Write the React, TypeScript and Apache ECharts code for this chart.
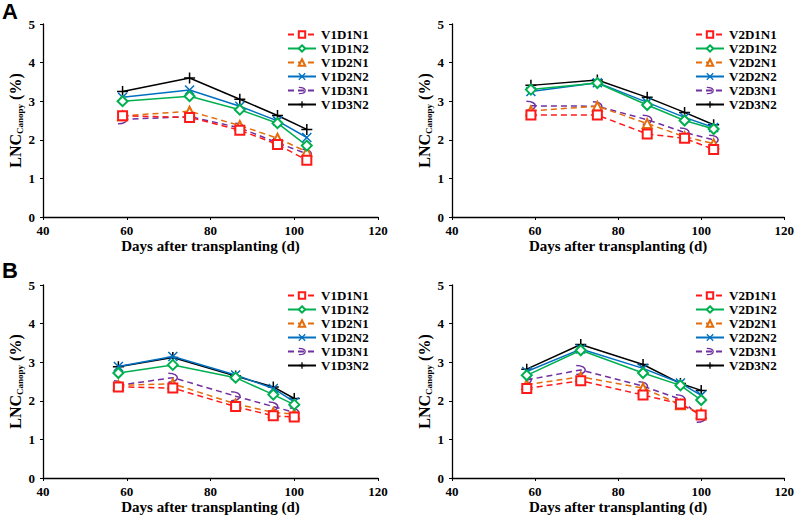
import React, { useEffect, useRef } from "react";
import * as echarts from "echarts";

// ---------- data ----------
const daysA = [59, 75, 87, 96, 103];
const daysB = [58, 71, 86, 95, 100];

const namesV1 = ["V1D1N1", "V1D1N2", "V1D2N1", "V1D2N2", "V1D3N1", "V1D3N2"];
const namesV2 = ["V2D1N1", "V2D1N2", "V2D2N1", "V2D2N2", "V2D3N1", "V2D3N2"];

// Panel A, V1
const aV1D1N1 = [2.62, 2.58, 2.25, 1.88, 1.47];
const aV1D1N2 = [3.0, 3.13, 2.78, 2.43, 1.85];
const aV1D2N1 = [2.62, 2.74, 2.37, 2.04, 1.69];
const aV1D2N2 = [3.1, 3.29, 2.87, 2.49, 2.06];
const aV1D3N1 = [2.53, 2.6, 2.31, 1.92, 1.64];
const aV1D3N2 = [3.25, 3.6, 3.05, 2.63, 2.27];
// Panel A, V2
const aV2D1N1 = [2.64, 2.64, 2.15, 2.04, 1.75];
const aV2D1N2 = [3.3, 3.47, 2.9, 2.5, 2.28];
const aV2D2N1 = [2.75, 2.87, 2.42, 2.08, 1.9];
const aV2D2N2 = [3.25, 3.48, 2.97, 2.58, 2.32];
const aV2D3N1 = [2.88, 2.87, 2.52, 2.19, 2.0];
const aV2D3N2 = [3.41, 3.55, 3.1, 2.71, 2.39];
// Panel B, V1
const bV1D1N1 = [2.36, 2.33, 1.85, 1.61, 1.58];
const bV1D1N2 = [2.72, 2.93, 2.6, 2.16, 1.9];
const bV1D2N1 = [2.4, 2.44, 1.92, 1.7, 1.66];
const bV1D2N2 = [2.89, 3.15, 2.67, 2.32, 1.97];
const bV1D3N1 = [2.4, 2.6, 2.12, 1.85, 1.7];
const bV1D3N2 = [2.88, 3.12, 2.64, 2.36, 2.06];
// Panel B, V2
const bV2D1N1 = [2.32, 2.52, 2.15, 1.92, 1.63];
const bV2D1N2 = [2.66, 3.31, 2.72, 2.4, 2.02];
const bV2D2N1 = [2.42, 2.62, 2.33, 1.9, 1.67];
const bV2D2N2 = [2.76, 3.34, 2.84, 2.46, 2.14];
const bV2D3N1 = [2.54, 2.8, 2.38, 2.04, 1.56];
const bV2D3N2 = [2.82, 3.46, 2.94, 2.45, 2.27];

const xTicks = [40, 120, 20];
const yTicks = [0, 5, 1];

// ---------- styles ----------
const SERIF = "'Liberation Serif', 'Times New Roman', serif";
const COLORS = ["#FF1A1A", "#00B050", "#E46C0A", "#0070C0", "#7030A0", "#000000"];
const SYMBOLS = [
  "emptyRect",
  "emptyDiamond",
  "emptyTriangle",
  "path://M0,0L10,10M10,0L0,10",
  "path://M2,0.5C10.5,0.5 10.5,9.5 2,9.5",
  "path://M5,0L5,10M0,5L10,5",
];
const SIZES = [9, 10, 9, 9, 9, 11];
const DASHED = [true, false, true, false, true, false];

const grids = [
  { left: 43, top: 24, width: 335, height: 193 },
  { left: 452, top: 24, width: 334, height: 193 },
  { left: 43, top: 285, width: 335, height: 193 },
  { left: 452, top: 285, width: 334, height: 193 },
];

const panelData = [
  { x: daysA, names: namesV1, vals: [aV1D1N1, aV1D1N2, aV1D2N1, aV1D2N2, aV1D3N1, aV1D3N2] },
  { x: daysA, names: namesV2, vals: [aV2D1N1, aV2D1N2, aV2D2N1, aV2D2N2, aV2D3N1, aV2D3N2] },
  { x: daysB, names: namesV1, vals: [bV1D1N1, bV1D1N2, bV1D2N1, bV1D2N2, bV1D3N1, bV1D3N2] },
  { x: daysB, names: namesV2, vals: [bV2D1N1, bV2D1N2, bV2D2N1, bV2D2N2, bV2D3N1, bV2D3N2] },
];

const legendPos = [
  { left: 287, top: 28 },
  { left: 695, top: 28 },
  { left: 287, top: 289 },
  { left: 695, top: 289 },
];

export default function App() {
  const ref = useRef<HTMLDivElement>(null);

  useEffect(() => {
    if (!ref.current) return;
    const chart = echarts.init(ref.current, null, { renderer: "svg" });

    const xAxis = grids.map((_, i) => ({
      type: "value",
      gridIndex: i,
      min: xTicks[0],
      max: xTicks[1],
      interval: xTicks[2],
      name: "Days after transplanting (d)",
      nameLocation: "middle",
      nameGap: 21,
      nameTextStyle: { fontFamily: SERIF, fontWeight: "bold", fontSize: 15, color: "#000" },
      axisLine: { show: true, lineStyle: { color: "#000", width: 1.3 } },
      axisTick: { show: true, length: 3, lineStyle: { color: "#000", width: 1 } },
      axisLabel: { fontFamily: SERIF, fontWeight: "bold", fontSize: 13, color: "#000", margin: 7 },
      splitLine: { show: false },
    }));

    const yAxis = grids.map((_, i) => ({
      type: "value",
      gridIndex: i,
      min: yTicks[0],
      max: yTicks[1],
      interval: yTicks[2],
      name: "{a|LNC}{b|Canopy}{a| (%)}",
      nameLocation: "middle",
      nameRotate: 90,
      nameGap: 19,
      nameTextStyle: {
        rich: {
          a: { fontFamily: SERIF, fontWeight: "bold", fontSize: 16, color: "#000", lineHeight: 18, verticalAlign: "middle" },
          b: { fontFamily: SERIF, fontWeight: "bold", fontSize: 9, color: "#000", lineHeight: 6, verticalAlign: "bottom" },
        },
      },
      axisLine: { show: true, lineStyle: { color: "#000", width: 1.3 } },
      axisTick: { show: true, length: 3, lineStyle: { color: "#000", width: 1 } },
      axisLabel: { fontFamily: SERIF, fontWeight: "bold", fontSize: 13, color: "#000", margin: 8 },
      splitLine: { show: false },
    }));

    const series: any[] = [];
    panelData.forEach((p, gi) => {
      p.names.forEach((name, k) => {
        const isPath = SYMBOLS[k].startsWith("path://");
        series.push({
          type: "line",
          name,
          xAxisIndex: gi,
          yAxisIndex: gi,
          data: p.x.map((d, j) => [d, p.vals[k][j]]),
          symbol: SYMBOLS[k],
          symbolSize: SIZES[k],
          showAllSymbol: true,
          lineStyle: {
            color: COLORS[k],
            width: 1.5,
            type: DASHED[k] ? [6, 4] : "solid",
          },
          itemStyle: {
            color: isPath ? "rgba(0,0,0,0)" : COLORS[k],
            borderColor: COLORS[k],
            borderWidth: 1.5,
          },
          emphasis: { disabled: true },
          z: 10 - k,
        });
      });
    });

    const legend = panelData.map((p, gi) => ({
      data: p.names,
      orient: "vertical",
      left: legendPos[gi].left,
      top: legendPos[gi].top,
      padding: 0,
      itemWidth: 28,
      itemHeight: 8,
      itemGap: 1,
      selectedMode: false,
      itemStyle: { borderWidth: 1.3 },
      textStyle: { fontFamily: SERIF, fontWeight: "bold", fontSize: 13, color: "#000", lineHeight: 13 },
    }));

    chart.setOption({
      animation: false,
      backgroundColor: "#fff",
      grid: grids,
      xAxis,
      yAxis,
      legend,
      series,
      graphic: [
        { type: "text", left: 2, top: 0, style: { text: "A", font: "bold 22px 'Liberation Sans', Arial, sans-serif", fill: "#000" } },
        { type: "text", left: 2, top: 259, style: { text: "B", font: "bold 22px 'Liberation Sans', Arial, sans-serif", fill: "#000" } },
      ],
    });

    return () => chart.dispose();
  }, []);

  return <div ref={ref} style={{ width: 797, height: 521, position: "absolute", left: 0, top: 0 }} />;
}
